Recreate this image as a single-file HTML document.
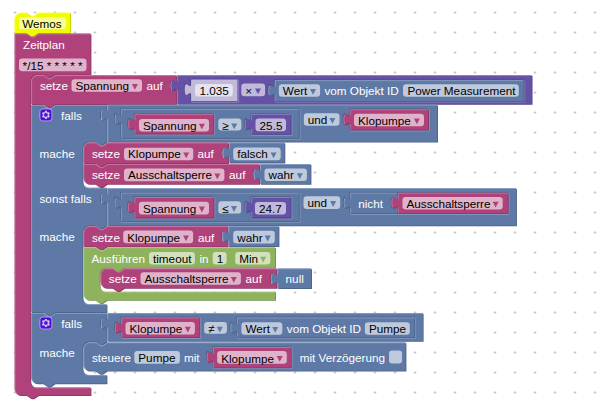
<!DOCTYPE html>
<html><head><meta charset="utf-8"><style>
html,body{margin:0;padding:0;background:#fff;}
body{width:605px;height:405px;overflow:hidden;}
svg{display:block;}
text{font-family:"Liberation Sans",sans-serif;font-size:11.73px;white-space:pre;}
</style></head><body>
<svg width="605" height="405" viewBox="0 0 605 405">
<defs><pattern id="grid" patternUnits="userSpaceOnUse" width="20" height="20" x="13" y="11">
<ellipse cx="2" cy="1.5" rx="1.45" ry="1.1" fill="#c6c6c6"/></pattern></defs>
<rect width="605" height="405" fill="#fff"/>
<rect width="605" height="405" fill="url(#grid)"/>
<path d="M 15.4,20 a 6.4,6.4 0 0,1 6.4,-6.4 H 27.4 l 4.8,3.2 2.4,0 4.8,-3.2 H 71 V 33.8 H 39 l -4.8,3.2 -2.4,0 -4.8,-3.2 H 15.4 Z" fill="rgb(192,202,0)"/>
<path d="M 14.6,19.2 a 6.4,6.4 0 0,1 6.4,-6.4 H 26.6 l 4.8,3.2 2.4,0 4.8,-3.2 H 70.2 V 33 H 38.2 l -4.8,3.2 -2.4,0 -4.8,-3.2 H 14.6 Z" fill="rgb(240,253,0)"/>
<path d="M 15,19.2 a 6.0,6.0 0 0,1 6.0,-6.0 H 27 l 4.8,3.2 2.4,0 4.8,-3.2 H 69.8 M 15,32.6 V 19.2 " fill="none" stroke="rgb(244,254,76)" stroke-width="0.8"/>
<rect x="18.9" y="17.2" width="47.1" height="11.9" rx="3.2" fill="rgb(249,254,153)"/>
<text x="22.2" y="28" fill="#000">Wemos</text>
<path d="M 15.4,34.4 H 27.4 l 4.8,3.2 2.4,0 4.8,-3.2 H 91.4 V 75.2 H 55.2 l -4.8,3.2 -2.4,0 -4.8,-3.2 H 37.6 a 6.4,6.4 0 0,0 -6.4,6.4 V 381.9 a 6.4,6.4 0 0,0 6.4,6.4 H 91.4 V 396.1 H 39 l -4.8,3.2 -2.4,0 -4.8,-3.2 H 21.8 a 6.4,6.4 0 0,1 -6.4,-6.4 Z" fill="rgb(140,53,98)"/>
<path d="M 14.6,33.6 H 26.6 l 4.8,3.2 2.4,0 4.8,-3.2 H 90.6 V 74.4 H 54.4 l -4.8,3.2 -2.4,0 -4.8,-3.2 H 36.8 a 6.4,6.4 0 0,0 -6.4,6.4 V 381.1 a 6.4,6.4 0 0,0 6.4,6.4 H 90.6 V 395.3 H 38.2 l -4.8,3.2 -2.4,0 -4.8,-3.2 H 21 a 6.4,6.4 0 0,1 -6.4,-6.4 Z" fill="rgb(175,66,123)"/>
<path d="M 15,34 H 27 l 4.8,3.2 2.4,0 4.8,-3.2 H 90.2 M 32.32,385.98 Q 33.92,387.9 36.8,387.9 H 90.2 M 16.5,393.4 Q 15,391.8 15,388.9 V 34 " fill="none" stroke="rgb(199,123,163)" stroke-width="0.8"/>
<text x="23" y="49" fill="#fff">Zeitplan</text>
<rect x="19" y="58.6" width="67.5" height="12.6" rx="3.2" fill="#fff" fill-opacity="0.6"/>
<text x="22.6" y="70" fill="#000">*/15 * * * * *</text>
<path d="M 32,82.4 a 6.4,6.4 0 0,1 6.4,-6.4 H 44 l 4.8,3.2 2.4,0 4.8,-3.2 H 177.2 V 80 c 0,8 -6.4,-6.4 -6.4,6 s 6.4,-2 6.4,6 V 105 H 55.6 l -4.8,3.2 -2.4,0 -4.8,-3.2 H 32 Z" fill="rgb(140,53,98)"/>
<path d="M 31.2,81.6 a 6.4,6.4 0 0,1 6.4,-6.4 H 43.2 l 4.8,3.2 2.4,0 4.8,-3.2 H 176.4 V 79.2 c 0,8 -6.4,-6.4 -6.4,6 s 6.4,-2 6.4,6 V 104.2 H 54.8 l -4.8,3.2 -2.4,0 -4.8,-3.2 H 31.2 Z" fill="rgb(175,66,123)"/>
<path d="M 31.6,81.6 a 6.0,6.0 0 0,1 6.0,-6.0 H 43.6 l 4.8,3.2 2.4,0 4.8,-3.2 H 176 M 31.6,103.8 V 81.6 " fill="none" stroke="rgb(199,123,163)" stroke-width="0.8"/>
<text x="39.9" y="90" fill="#fff">setze</text>
<rect x="71.5" y="79.2" width="70.5" height="12.6" rx="3.2" fill="#fff" fill-opacity="0.6"/>
<text x="75.5" y="90" fill="#000">Spannung</text>
<path d="M 131.9,84 H 137.9 L 134.9,89.8 Z" fill="rgb(175,66,123)"/>
<text x="146.4" y="90" fill="#fff">auf</text>
<path d="M 178,76 H 532.5 V 104.7 H 178 V 92 c 0,-8 -6.4,6.4 -6.4,-6 s 6.4,2 6.4,-6 Z" fill="rgb(81,66,133)"/>
<path d="M 177.2,75.2 H 531.7 V 103.9 H 177.2 V 91.2 c 0,-8 -6.4,6.4 -6.4,-6 s 6.4,2 6.4,-6 Z" fill="rgb(101,82,166)"/>
<path d="M 177.6,75.6 H 531.3 M 177.6,103.5 V 91.2 v -1.2 m -5.89,-0.4 q -1.22,-4.4 0,-8.8 m 5.89,0.8 V 75.6 M 238.6,80 V 102.3 H 191.5 M 524.8,80.6 V 102.1 H 275.1 " fill="none" stroke="rgb(147,134,193)" stroke-width="0.8"/>
<rect x="241.3" y="83.6" width="23.8" height="12.6" rx="3.2" fill="#fff" fill-opacity="0.6"/>
<text x="245.2" y="95" fill="#000">×</text>
<path d="M 255,88.4 H 261 L 258,94.2 Z" fill="rgb(101,82,166)"/>
<path d="M 190.3,78.8 H 236.6 V 100.3 H 190.3 V 94.8 c 0,-8 -6.4,6.4 -6.4,-6 s 6.4,2 6.4,-6 Z" fill="rgb(81,66,133)"/>
<path d="M 191.1,79.6 H 237.4 V 101.1 H 191.1 V 95.6 c 0,-8 -6.4,6.4 -6.4,-6 s 6.4,2 6.4,-6 Z" fill="rgb(193,186,219)"/>
<rect x="195.1" y="83.9" width="37.7" height="12.6" rx="3.2" fill="#fff" fill-opacity="0.6"/>
<text x="199.4" y="95" fill="#000">1.035</text>
<path d="M 273.9,79.4 H 522.8 V 100.1 H 273.9 V 95.4 c 0,-8 -6.4,6.4 -6.4,-6 s 6.4,2 6.4,-6 Z" fill="rgb(81,66,133)"/>
<path d="M 275.5,81 H 524.4 V 101.7 H 275.5 V 97 c 0,-8 -6.4,6.4 -6.4,-6 s 6.4,2 6.4,-6 Z" fill="rgb(75,97,133)"/>
<path d="M 274.7,80.2 H 523.6 V 100.9 H 274.7 V 96.2 c 0,-8 -6.4,6.4 -6.4,-6 s 6.4,2 6.4,-6 Z" fill="rgb(94,121,166)"/>
<path d="M 275.1,80.6 H 523.2 M 275.1,100.5 V 96.2 v -1.2 m -5.89,-0.4 q -1.22,-4.4 0,-8.8 m 5.89,0.8 V 80.6 " fill="none" stroke="rgb(142,161,193)" stroke-width="0.8"/>
<rect x="278.8" y="84.2" width="41.3" height="12.6" rx="3.2" fill="#fff" fill-opacity="0.6"/>
<text x="282.8" y="95" fill="#000">Wert</text>
<path d="M 310,89 H 316 L 313,94.8 Z" fill="rgb(94,121,166)"/>
<text x="324.4" y="95" fill="#fff">vom Objekt ID</text>
<rect x="403" y="84.2" width="115.8" height="12.6" rx="3.2" fill="#fff" fill-opacity="0.6"/>
<text x="407.4" y="95" fill="#000">Power Measurement</text>
<path d="M 32,105.8 H 44 l 4.8,3.2 2.4,0 4.8,-3.2 H 107.4 V 109.8 c 0,8 -6.4,-6.4 -6.4,6 s 6.4,-2 6.4,6 V 142.6 H 107.4 l -4.8,3.2 -2.4,0 -4.8,-3.2 H 89.8 a 6.4,6.4 0 0,0 -6.4,6.4 V 182.2 a 6.4,6.4 0 0,0 6.4,6.4 H 107.4 V 193 c 0,8 -6.4,-6.4 -6.4,6 s 6.4,-2 6.4,6 V 226.2 H 107.4 l -4.8,3.2 -2.4,0 -4.8,-3.2 H 89.8 a 6.4,6.4 0 0,0 -6.4,6.4 V 298.6 a 6.4,6.4 0 0,0 6.4,6.4 H 107.4 V 313.1 H 55.6 l -4.8,3.2 -2.4,0 -4.8,-3.2 H 32 Z" fill="rgb(75,97,133)"/>
<path d="M 31.2,105 H 43.2 l 4.8,3.2 2.4,0 4.8,-3.2 H 106.6 V 109 c 0,8 -6.4,-6.4 -6.4,6 s 6.4,-2 6.4,6 V 141.8 H 106.6 l -4.8,3.2 -2.4,0 -4.8,-3.2 H 89 a 6.4,6.4 0 0,0 -6.4,6.4 V 181.4 a 6.4,6.4 0 0,0 6.4,6.4 H 106.6 V 192.2 c 0,8 -6.4,-6.4 -6.4,6 s 6.4,-2 6.4,6 V 225.4 H 106.6 l -4.8,3.2 -2.4,0 -4.8,-3.2 H 89 a 6.4,6.4 0 0,0 -6.4,6.4 V 297.8 a 6.4,6.4 0 0,0 6.4,6.4 H 106.6 V 312.3 H 54.8 l -4.8,3.2 -2.4,0 -4.8,-3.2 H 31.2 Z" fill="rgb(94,121,166)"/>
<path d="M 31.6,105.4 H 43.6 l 4.8,3.2 2.4,0 4.8,-3.2 H 106.2 M 84.52,186.28 Q 86.12,188.2 89,188.2 H 106.2 M 84.52,302.68 Q 86.12,304.6 89,304.6 H 106.2 M 31.6,311.9 V 105.4 " fill="none" stroke="rgb(142,161,193)" stroke-width="0.8"/>
<g transform="translate(39.5,108.5) scale(0.8)"><rect x="0.5" y="0.5" width="15" height="15" rx="3.6" fill="rgb(88,10,222)" stroke="rgb(190,200,230)" stroke-width="0.9"/><path d="m4.203,7.296 0,1.368 -0.92,0.677 -0.11,0.41 0.9,1.559 0.41,0.11 1.043,-0.457 1.187,0.683 0.127,1.134 0.3,0.3 1.8,0 0.3,-0.299 0.127,-1.138 1.185,-0.682 1.046,0.458 0.409,-0.11 0.9,-1.559 -0.11,-0.41 -0.92,-0.677 0,-1.366 0.92,-0.677 0.11,-0.41 -0.9,-1.559 -0.409,-0.109 -1.046,0.458 -1.185,-0.682 -0.127,-1.138 -0.3,-0.299 -1.8,0 -0.3,0.3 -0.126,1.135 -1.187,0.682 -1.043,-0.457 -0.41,0.11 -0.899,1.559 0.108,0.409z" fill="rgb(200,206,228)"/><circle cx="8" cy="8" r="2.7" fill="rgb(88,10,222)" stroke="rgb(190,200,230)" stroke-width="0.6"/></g>
<text x="61" y="120" fill="#fff">falls</text>
<text x="39.6" y="158" fill="#fff">mache</text>
<text x="39.5" y="203" fill="#fff">sonst falls</text>
<text x="39.6" y="241" fill="#fff">mache</text>
<path d="M 108.2,105.6 H 438 V 142.6 H 108.2 V 121.6 c 0,-8 -6.4,6.4 -6.4,-6 s 6.4,2 6.4,-6 Z" fill="rgb(75,97,133)"/>
<path d="M 107.4,104.8 H 437.2 V 141.8 H 107.4 V 120.8 c 0,-8 -6.4,6.4 -6.4,-6 s 6.4,2 6.4,-6 Z" fill="rgb(94,121,166)"/>
<path d="M 107.8,105.2 H 436.8 M 107.8,141.4 V 120.8 v -1.2 m -5.89,-0.4 q -1.22,-4.4 0,-8.8 m 5.89,0.8 V 105.2 M 300,109.4 V 139.2 H 121.6 M 429.3,109.8 V 131 H 350.3 " fill="none" stroke="rgb(142,161,193)" stroke-width="0.8"/>
<rect x="303.8" y="113.2" width="35.7" height="12.6" rx="3.2" fill="#fff" fill-opacity="0.6"/>
<text x="307.8" y="124" fill="#000">und</text>
<path d="M 329.4,118 H 335.4 L 332.4,123.8 Z" fill="rgb(94,121,166)"/>
<path d="M 120.4,108.2 H 298 V 137.2 H 120.4 V 124.2 c 0,-8 -6.4,6.4 -6.4,-6 s 6.4,2 6.4,-6 Z" fill="rgb(75,97,133)"/>
<path d="M 122,109.8 H 299.6 V 138.8 H 122 V 125.8 c 0,-8 -6.4,6.4 -6.4,-6 s 6.4,2 6.4,-6 Z" fill="rgb(75,97,133)"/>
<path d="M 121.2,109 H 298.8 V 138 H 121.2 V 125 c 0,-8 -6.4,6.4 -6.4,-6 s 6.4,2 6.4,-6 Z" fill="rgb(94,121,166)"/>
<path d="M 121.6,109.4 H 298.4 M 121.6,137.6 V 125 v -1.2 m -5.89,-0.4 q -1.22,-4.4 0,-8.8 m 5.89,0.8 V 109.4 M 214.6,114.4 V 134.8 H 135 M 291.9,114.4 V 135.2 H 251.6 " fill="none" stroke="rgb(142,161,193)" stroke-width="0.8"/>
<rect x="218.3" y="118.6" width="23" height="11.8" rx="3.2" fill="#fff" fill-opacity="0.6"/>
<text x="222.3" y="130" fill="#000">≥</text>
<path d="M 231.2,123.4 H 237.2 L 234.2,129.2 Z" fill="rgb(94,121,166)"/>
<path d="M 133.8,113.2 H 212.6 V 132.8 H 133.8 V 129.2 c 0,-8 -6.4,6.4 -6.4,-6 s 6.4,2 6.4,-6 Z" fill="rgb(75,97,133)"/>
<path d="M 135.4,114.8 H 214.2 V 134.4 H 135.4 V 130.8 c 0,-8 -6.4,6.4 -6.4,-6 s 6.4,2 6.4,-6 Z" fill="rgb(140,53,98)"/>
<path d="M 134.6,114 H 213.4 V 133.6 H 134.6 V 130 c 0,-8 -6.4,6.4 -6.4,-6 s 6.4,2 6.4,-6 Z" fill="rgb(175,66,123)"/>
<path d="M 135,114.4 H 213 M 135,133.2 V 130 v -1.2 m -5.89,-0.4 q -1.22,-4.4 0,-8.8 m 5.89,0.8 V 114.4 " fill="none" stroke="rgb(199,123,163)" stroke-width="0.8"/>
<rect x="139" y="118.9" width="70" height="12.6" rx="3.2" fill="#fff" fill-opacity="0.6"/>
<text x="143" y="130" fill="#000">Spannung</text>
<path d="M 198.9,123.7 H 204.9 L 201.9,129.5 Z" fill="rgb(175,66,123)"/>
<path d="M 250.4,113.2 H 289.9 V 133.2 H 250.4 V 129.2 c 0,-8 -6.4,6.4 -6.4,-6 s 6.4,2 6.4,-6 Z" fill="rgb(75,97,133)"/>
<path d="M 252,114.8 H 291.5 V 134.8 H 252 V 130.8 c 0,-8 -6.4,6.4 -6.4,-6 s 6.4,2 6.4,-6 Z" fill="rgb(81,66,133)"/>
<path d="M 251.2,114 H 290.7 V 134 H 251.2 V 130 c 0,-8 -6.4,6.4 -6.4,-6 s 6.4,2 6.4,-6 Z" fill="rgb(101,82,166)"/>
<path d="M 251.6,114.4 H 290.3 M 251.6,133.6 V 130 v -1.2 m -5.89,-0.4 q -1.22,-4.4 0,-8.8 m 5.89,0.8 V 114.4 " fill="none" stroke="rgb(147,134,193)" stroke-width="0.8"/>
<rect x="255.5" y="118.6" width="30.5" height="12.6" rx="3.2" fill="#fff" fill-opacity="0.6"/>
<text x="259.6" y="130" fill="#000">25.5</text>
<path d="M 349.1,108.6 H 427.3 V 129 H 349.1 V 124.6 c 0,-8 -6.4,6.4 -6.4,-6 s 6.4,2 6.4,-6 Z" fill="rgb(75,97,133)"/>
<path d="M 350.7,110.2 H 428.9 V 130.6 H 350.7 V 126.2 c 0,-8 -6.4,6.4 -6.4,-6 s 6.4,2 6.4,-6 Z" fill="rgb(140,53,98)"/>
<path d="M 349.9,109.4 H 428.1 V 129.8 H 349.9 V 125.4 c 0,-8 -6.4,6.4 -6.4,-6 s 6.4,2 6.4,-6 Z" fill="rgb(175,66,123)"/>
<path d="M 350.3,109.8 H 427.7 M 350.3,129.4 V 125.4 v -1.2 m -5.89,-0.4 q -1.22,-4.4 0,-8.8 m 5.89,0.8 V 109.8 " fill="none" stroke="rgb(199,123,163)" stroke-width="0.8"/>
<rect x="354" y="113.7" width="70" height="12.6" rx="3.2" fill="#fff" fill-opacity="0.6"/>
<text x="358" y="125" fill="#000">Klopumpe</text>
<path d="M 413.9,118.5 H 419.9 L 416.9,124.3 Z" fill="rgb(175,66,123)"/>
<path d="M 84.2,149.8 a 6.4,6.4 0 0,1 6.4,-6.4 H 96.2 l 4.8,3.2 2.4,0 4.8,-3.2 H 229.1 V 147.4 c 0,8 -6.4,-6.4 -6.4,6 s 6.4,-2 6.4,6 V 164.1 H 107.8 l -4.8,3.2 -2.4,0 -4.8,-3.2 H 84.2 Z" fill="rgb(140,53,98)"/>
<path d="M 83.4,149 a 6.4,6.4 0 0,1 6.4,-6.4 H 95.4 l 4.8,3.2 2.4,0 4.8,-3.2 H 228.3 V 146.6 c 0,8 -6.4,-6.4 -6.4,6 s 6.4,-2 6.4,6 V 163.3 H 107 l -4.8,3.2 -2.4,0 -4.8,-3.2 H 83.4 Z" fill="rgb(175,66,123)"/>
<path d="M 83.8,149 a 6.0,6.0 0 0,1 6.0,-6.0 H 95.8 l 4.8,3.2 2.4,0 4.8,-3.2 H 227.9 M 83.8,162.9 V 149 " fill="none" stroke="rgb(199,123,163)" stroke-width="0.8"/>
<text x="91.9" y="158" fill="#fff">setze</text>
<rect x="124" y="147.7" width="69.3" height="12.6" rx="3.2" fill="#fff" fill-opacity="0.6"/>
<text x="128" y="158" fill="#000">Klopumpe</text>
<path d="M 183.2,152.5 H 189.2 L 186.2,158.3 Z" fill="rgb(175,66,123)"/>
<text x="197.4" y="158" fill="#fff">auf</text>
<path d="M 229.9,143.4 H 285.3 V 163.4 H 229.9 V 159.4 c 0,-8 -6.4,6.4 -6.4,-6 s 6.4,2 6.4,-6 Z" fill="rgb(75,97,133)"/>
<path d="M 229.1,142.6 H 284.5 V 162.6 H 229.1 V 158.6 c 0,-8 -6.4,6.4 -6.4,-6 s 6.4,2 6.4,-6 Z" fill="rgb(94,121,166)"/>
<path d="M 229.5,143 H 284.1 M 229.5,162.2 V 158.6 v -1.2 m -5.89,-0.4 q -1.22,-4.4 0,-8.8 m 5.89,0.8 V 143 " fill="none" stroke="rgb(142,161,193)" stroke-width="0.8"/>
<rect x="233.2" y="147.6" width="47.5" height="12.6" rx="3.2" fill="#fff" fill-opacity="0.6"/>
<text x="237.2" y="158" fill="#000">falsch</text>
<path d="M 270.6,152.4 H 276.6 L 273.6,158.2 Z" fill="rgb(94,121,166)"/>
<path d="M 84.2,164.9 H 96.2 l 4.8,3.2 2.4,0 4.8,-3.2 H 260.2 V 168.9 c 0,8 -6.4,-6.4 -6.4,6 s 6.4,-2 6.4,6 V 184.8 H 107.8 l -4.8,3.2 -2.4,0 -4.8,-3.2 H 90.6 a 6.4,6.4 0 0,1 -6.4,-6.4 Z" fill="rgb(140,53,98)"/>
<path d="M 83.4,164.1 H 95.4 l 4.8,3.2 2.4,0 4.8,-3.2 H 259.4 V 168.1 c 0,8 -6.4,-6.4 -6.4,6 s 6.4,-2 6.4,6 V 184 H 107 l -4.8,3.2 -2.4,0 -4.8,-3.2 H 89.8 a 6.4,6.4 0 0,1 -6.4,-6.4 Z" fill="rgb(175,66,123)"/>
<path d="M 83.8,164.5 H 95.8 l 4.8,3.2 2.4,0 4.8,-3.2 H 259 M 85.3,182.1 Q 83.8,180.5 83.8,177.6 V 164.5 " fill="none" stroke="rgb(199,123,163)" stroke-width="0.8"/>
<text x="91.9" y="179" fill="#fff">setze</text>
<rect x="124" y="168.6" width="100.4" height="12.6" rx="3.2" fill="#fff" fill-opacity="0.6"/>
<text x="128" y="179" fill="#000">Ausschaltsperre</text>
<path d="M 214.3,173.4 H 220.3 L 217.3,179.2 Z" fill="rgb(175,66,123)"/>
<text x="229.1" y="179" fill="#fff">auf</text>
<path d="M 261,164.9 H 311.4 V 184.8 H 261 V 180.9 c 0,-8 -6.4,6.4 -6.4,-6 s 6.4,2 6.4,-6 Z" fill="rgb(75,97,133)"/>
<path d="M 260.2,164.1 H 310.6 V 184 H 260.2 V 180.1 c 0,-8 -6.4,6.4 -6.4,-6 s 6.4,2 6.4,-6 Z" fill="rgb(94,121,166)"/>
<path d="M 260.6,164.5 H 310.2 M 260.6,183.6 V 180.1 v -1.2 m -5.89,-0.4 q -1.22,-4.4 0,-8.8 m 5.89,0.8 V 164.5 " fill="none" stroke="rgb(142,161,193)" stroke-width="0.8"/>
<rect x="264.5" y="168.4" width="42.4" height="12.6" rx="3.2" fill="#fff" fill-opacity="0.6"/>
<text x="268.5" y="179" fill="#000">wahr</text>
<path d="M 296.8,173.2 H 302.8 L 299.8,179 Z" fill="rgb(94,121,166)"/>
<path d="M 108.2,189 H 516.9 V 226.2 H 108.2 V 205 c 0,-8 -6.4,6.4 -6.4,-6 s 6.4,2 6.4,-6 Z" fill="rgb(75,97,133)"/>
<path d="M 107.4,188.2 H 516.1 V 225.4 H 107.4 V 204.2 c 0,-8 -6.4,6.4 -6.4,-6 s 6.4,2 6.4,-6 Z" fill="rgb(94,121,166)"/>
<path d="M 107.8,188.6 H 515.7 M 107.8,225 V 204.2 v -1.2 m -5.89,-0.4 q -1.22,-4.4 0,-8.8 m 5.89,0.8 V 188.6 M 300,193.1 V 222.2 H 121.4 M 509,193.2 V 214.4 H 350.6 " fill="none" stroke="rgb(142,161,193)" stroke-width="0.8"/>
<rect x="303.5" y="196.3" width="36.7" height="12.6" rx="3.2" fill="#fff" fill-opacity="0.6"/>
<text x="307.5" y="207" fill="#000">und</text>
<path d="M 330.1,201.1 H 336.1 L 333.1,206.9 Z" fill="rgb(94,121,166)"/>
<path d="M 120.2,191.9 H 298 V 220.2 H 120.2 V 207.9 c 0,-8 -6.4,6.4 -6.4,-6 s 6.4,2 6.4,-6 Z" fill="rgb(75,97,133)"/>
<path d="M 121.8,193.5 H 299.6 V 221.8 H 121.8 V 209.5 c 0,-8 -6.4,6.4 -6.4,-6 s 6.4,2 6.4,-6 Z" fill="rgb(75,97,133)"/>
<path d="M 121,192.7 H 298.8 V 221 H 121 V 208.7 c 0,-8 -6.4,6.4 -6.4,-6 s 6.4,2 6.4,-6 Z" fill="rgb(94,121,166)"/>
<path d="M 121.4,193.1 H 298.4 M 121.4,220.6 V 208.7 v -1.2 m -5.89,-0.4 q -1.22,-4.4 0,-8.8 m 5.89,0.8 V 193.1 M 214.8,197.5 V 218.8 H 134.8 M 291.8,197.5 V 218.8 H 251.8 " fill="none" stroke="rgb(142,161,193)" stroke-width="0.8"/>
<rect x="218.3" y="201.3" width="22.8" height="12.3" rx="3.2" fill="#fff" fill-opacity="0.6"/>
<text x="222.3" y="213" fill="#000">≤</text>
<path d="M 231,206.1 H 237 L 234,211.9 Z" fill="rgb(94,121,166)"/>
<path d="M 133.6,196.3 H 212.8 V 216.8 H 133.6 V 212.3 c 0,-8 -6.4,6.4 -6.4,-6 s 6.4,2 6.4,-6 Z" fill="rgb(75,97,133)"/>
<path d="M 135.2,197.9 H 214.4 V 218.4 H 135.2 V 213.9 c 0,-8 -6.4,6.4 -6.4,-6 s 6.4,2 6.4,-6 Z" fill="rgb(140,53,98)"/>
<path d="M 134.4,197.1 H 213.6 V 217.6 H 134.4 V 213.1 c 0,-8 -6.4,6.4 -6.4,-6 s 6.4,2 6.4,-6 Z" fill="rgb(175,66,123)"/>
<path d="M 134.8,197.5 H 213.2 M 134.8,217.2 V 213.1 v -1.2 m -5.89,-0.4 q -1.22,-4.4 0,-8.8 m 5.89,0.8 V 197.5 " fill="none" stroke="rgb(199,123,163)" stroke-width="0.8"/>
<rect x="138.9" y="201.8" width="70.1" height="12.6" rx="3.2" fill="#fff" fill-opacity="0.6"/>
<text x="142.9" y="213" fill="#000">Spannung</text>
<path d="M 198.9,206.6 H 204.9 L 201.9,212.4 Z" fill="rgb(175,66,123)"/>
<path d="M 250.6,196.3 H 289.8 V 216.8 H 250.6 V 212.3 c 0,-8 -6.4,6.4 -6.4,-6 s 6.4,2 6.4,-6 Z" fill="rgb(75,97,133)"/>
<path d="M 252.2,197.9 H 291.4 V 218.4 H 252.2 V 213.9 c 0,-8 -6.4,6.4 -6.4,-6 s 6.4,2 6.4,-6 Z" fill="rgb(81,66,133)"/>
<path d="M 251.4,197.1 H 290.6 V 217.6 H 251.4 V 213.1 c 0,-8 -6.4,6.4 -6.4,-6 s 6.4,2 6.4,-6 Z" fill="rgb(101,82,166)"/>
<path d="M 251.8,197.5 H 290.2 M 251.8,217.2 V 213.1 v -1.2 m -5.89,-0.4 q -1.22,-4.4 0,-8.8 m 5.89,0.8 V 197.5 " fill="none" stroke="rgb(147,134,193)" stroke-width="0.8"/>
<rect x="254.9" y="201.9" width="31.1" height="12.6" rx="3.2" fill="#fff" fill-opacity="0.6"/>
<text x="258.9" y="213" fill="#000">24.7</text>
<path d="M 349.4,192 H 396.3 V 196 c 0,8 -6.4,-6.4 -6.4,6 s 6.4,-2 6.4,6 V 212.4 H 349.4 V 208 c 0,-8 -6.4,6.4 -6.4,-6 s 6.4,2 6.4,-6 Z" fill="rgb(75,97,133)"/>
<path d="M 397.1,192 H 507 V 212.4 H 397.1 V 208 c 0,-8 -6.4,6.4 -6.4,-6 s 6.4,2 6.4,-6 Z" fill="rgb(75,97,133)"/>
<path d="M 351,193.6 H 397.9 V 197.6 c 0,8 -6.4,-6.4 -6.4,6 s 6.4,-2 6.4,6 V 214 H 351 V 209.6 c 0,-8 -6.4,6.4 -6.4,-6 s 6.4,2 6.4,-6 Z" fill="rgb(75,97,133)"/>
<path d="M 350.2,192.8 H 397.1 V 196.8 c 0,8 -6.4,-6.4 -6.4,6 s 6.4,-2 6.4,6 V 213.2 H 350.2 V 208.8 c 0,-8 -6.4,6.4 -6.4,-6 s 6.4,2 6.4,-6 Z" fill="rgb(94,121,166)"/>
<path d="M 350.6,193.2 H 396.7 M 350.6,212.8 V 208.8 v -1.2 m -5.89,-0.4 q -1.22,-4.4 0,-8.8 m 5.89,0.8 V 193.2 " fill="none" stroke="rgb(142,161,193)" stroke-width="0.8"/>
<text x="358.2" y="208" fill="#fff">nicht</text>
<path d="M 398.7,193.6 H 508.6 V 214 H 398.7 V 209.6 c 0,-8 -6.4,6.4 -6.4,-6 s 6.4,2 6.4,-6 Z" fill="rgb(140,53,98)"/>
<path d="M 397.9,192.8 H 507.8 V 213.2 H 397.9 V 208.8 c 0,-8 -6.4,6.4 -6.4,-6 s 6.4,2 6.4,-6 Z" fill="rgb(175,66,123)"/>
<path d="M 398.3,193.2 H 507.4 M 398.3,212.8 V 208.8 v -1.2 m -5.89,-0.4 q -1.22,-4.4 0,-8.8 m 5.89,0.8 V 193.2 " fill="none" stroke="rgb(199,123,163)" stroke-width="0.8"/>
<rect x="402.5" y="196.9" width="100.2" height="12.6" rx="3.2" fill="#fff" fill-opacity="0.6"/>
<text x="406.5" y="208" fill="#000">Ausschaltsperre</text>
<path d="M 492.6,201.7 H 498.6 L 495.6,207.5 Z" fill="rgb(175,66,123)"/>
<path d="M 84.2,233.4 a 6.4,6.4 0 0,1 6.4,-6.4 H 96.2 l 4.8,3.2 2.4,0 4.8,-3.2 H 228.6 V 231 c 0,8 -6.4,-6.4 -6.4,6 s 6.4,-2 6.4,6 V 247.3 H 107.8 l -4.8,3.2 -2.4,0 -4.8,-3.2 H 84.2 Z" fill="rgb(140,53,98)"/>
<path d="M 83.4,232.6 a 6.4,6.4 0 0,1 6.4,-6.4 H 95.4 l 4.8,3.2 2.4,0 4.8,-3.2 H 227.8 V 230.2 c 0,8 -6.4,-6.4 -6.4,6 s 6.4,-2 6.4,6 V 246.5 H 107 l -4.8,3.2 -2.4,0 -4.8,-3.2 H 83.4 Z" fill="rgb(175,66,123)"/>
<path d="M 83.8,232.6 a 6.0,6.0 0 0,1 6.0,-6.0 H 95.8 l 4.8,3.2 2.4,0 4.8,-3.2 H 227.4 M 83.8,246.1 V 232.6 " fill="none" stroke="rgb(199,123,163)" stroke-width="0.8"/>
<text x="91.9" y="242" fill="#fff">setze</text>
<rect x="123.2" y="230.6" width="69.9" height="12.6" rx="3.2" fill="#fff" fill-opacity="0.6"/>
<text x="127.2" y="242" fill="#000">Klopumpe</text>
<path d="M 183,235.4 H 189 L 186,241.2 Z" fill="rgb(175,66,123)"/>
<text x="197.9" y="242" fill="#fff">auf</text>
<path d="M 229.4,227 H 279.4 V 247 H 229.4 V 243 c 0,-8 -6.4,6.4 -6.4,-6 s 6.4,2 6.4,-6 Z" fill="rgb(75,97,133)"/>
<path d="M 228.6,226.2 H 278.6 V 246.2 H 228.6 V 242.2 c 0,-8 -6.4,6.4 -6.4,-6 s 6.4,2 6.4,-6 Z" fill="rgb(94,121,166)"/>
<path d="M 229,226.6 H 278.2 M 229,245.8 V 242.2 v -1.2 m -5.89,-0.4 q -1.22,-4.4 0,-8.8 m 5.89,0.8 V 226.6 " fill="none" stroke="rgb(142,161,193)" stroke-width="0.8"/>
<rect x="233.2" y="230.8" width="41.6" height="12.6" rx="3.2" fill="#fff" fill-opacity="0.6"/>
<text x="237.2" y="242" fill="#000">wahr</text>
<path d="M 264.7,235.6 H 270.7 L 267.7,241.4 Z" fill="rgb(94,121,166)"/>
<path d="M 84.2,248.1 H 96.2 l 4.8,3.2 2.4,0 4.8,-3.2 H 276 V 268.5 H 124.5 l -4.8,3.2 -2.4,0 -4.8,-3.2 H 106.9 a 6.4,6.4 0 0,0 -6.4,6.4 V 286.2 a 6.4,6.4 0 0,0 6.4,6.4 H 276 V 300.8 H 107.8 l -4.8,3.2 -2.4,0 -4.8,-3.2 H 90.6 a 6.4,6.4 0 0,1 -6.4,-6.4 Z" fill="rgb(114,142,74)"/>
<path d="M 83.4,247.3 H 95.4 l 4.8,3.2 2.4,0 4.8,-3.2 H 275.2 V 267.7 H 123.7 l -4.8,3.2 -2.4,0 -4.8,-3.2 H 106.1 a 6.4,6.4 0 0,0 -6.4,6.4 V 285.4 a 6.4,6.4 0 0,0 6.4,6.4 H 275.2 V 300 H 107 l -4.8,3.2 -2.4,0 -4.8,-3.2 H 89.8 a 6.4,6.4 0 0,1 -6.4,-6.4 Z" fill="rgb(143,178,93)"/>
<path d="M 83.8,247.7 H 95.8 l 4.8,3.2 2.4,0 4.8,-3.2 H 274.8 M 101.62,290.28 Q 103.22,292.2 106.1,292.2 H 274.8 M 85.3,298.1 Q 83.8,296.5 83.8,293.6 V 247.7 " fill="none" stroke="rgb(177,201,142)" stroke-width="0.8"/>
<text x="91.5" y="263" fill="#fff">Ausführen</text>
<rect x="149" y="251.9" width="45.9" height="12.6" rx="3.2" fill="#fff" fill-opacity="0.6"/>
<text x="153" y="263" fill="#000">timeout</text>
<text x="199.4" y="263" fill="#fff">in</text>
<rect x="212.7" y="251.9" width="13.9" height="12.6" rx="3.2" fill="#fff" fill-opacity="0.6"/>
<text x="216.7" y="263" fill="#000">1</text>
<rect x="235.2" y="251.9" width="35.1" height="12.6" rx="3.2" fill="#fff" fill-opacity="0.6"/>
<text x="239.2" y="263" fill="#000">Min</text>
<path d="M 260.2,256.7 H 266.2 L 263.2,262.5 Z" fill="rgb(143,178,93)"/>
<path d="M 101.3,275.7 a 6.4,6.4 0 0,1 6.4,-6.4 H 113.3 l 4.8,3.2 2.4,0 4.8,-3.2 H 277.4 V 273.3 c 0,8 -6.4,-6.4 -6.4,6 s 6.4,-2 6.4,6 V 288.8 H 124.9 l -4.8,3.2 -2.4,0 -4.8,-3.2 H 107.7 a 6.4,6.4 0 0,1 -6.4,-6.4 Z" fill="rgb(140,53,98)"/>
<path d="M 100.5,274.9 a 6.4,6.4 0 0,1 6.4,-6.4 H 112.5 l 4.8,3.2 2.4,0 4.8,-3.2 H 276.6 V 272.5 c 0,8 -6.4,-6.4 -6.4,6 s 6.4,-2 6.4,6 V 288 H 124.1 l -4.8,3.2 -2.4,0 -4.8,-3.2 H 106.9 a 6.4,6.4 0 0,1 -6.4,-6.4 Z" fill="rgb(175,66,123)"/>
<path d="M 100.9,274.9 a 6.0,6.0 0 0,1 6.0,-6.0 H 112.9 l 4.8,3.2 2.4,0 4.8,-3.2 H 276.2 M 102.4,286.1 Q 100.9,284.5 100.9,281.6 V 274.9 " fill="none" stroke="rgb(199,123,163)" stroke-width="0.8"/>
<text x="108.8" y="283" fill="#fff">setze</text>
<rect x="140.5" y="272.2" width="100.4" height="12.6" rx="3.2" fill="#fff" fill-opacity="0.6"/>
<text x="144.5" y="283" fill="#000">Ausschaltsperre</text>
<path d="M 230.8,277 H 236.8 L 233.8,282.8 Z" fill="rgb(175,66,123)"/>
<text x="245.6" y="283" fill="#fff">auf</text>
<path d="M 278.2,269.3 H 312 V 289 H 278.2 V 285.3 c 0,-8 -6.4,6.4 -6.4,-6 s 6.4,2 6.4,-6 Z" fill="rgb(75,97,133)"/>
<path d="M 277.4,268.5 H 311.2 V 288.2 H 277.4 V 284.5 c 0,-8 -6.4,6.4 -6.4,-6 s 6.4,2 6.4,-6 Z" fill="rgb(94,121,166)"/>
<path d="M 277.8,268.9 H 310.8 M 277.8,287.8 V 284.5 v -1.2 m -5.89,-0.4 q -1.22,-4.4 0,-8.8 m 5.89,0.8 V 268.9 " fill="none" stroke="rgb(142,161,193)" stroke-width="0.8"/>
<text x="285.6" y="283" fill="#fff">null</text>
<path d="M 32,313.9 H 44 l 4.8,3.2 2.4,0 4.8,-3.2 H 107.4 V 317.9 c 0,8 -6.4,-6.4 -6.4,6 s 6.4,-2 6.4,6 V 342.4 H 107.4 l -4.8,3.2 -2.4,0 -4.8,-3.2 H 89.8 a 6.4,6.4 0 0,0 -6.4,6.4 V 369.4 a 6.4,6.4 0 0,0 6.4,6.4 H 107.4 V 384.3 H 55.6 l -4.8,3.2 -2.4,0 -4.8,-3.2 H 38.4 a 6.4,6.4 0 0,1 -6.4,-6.4 Z" fill="rgb(75,97,133)"/>
<path d="M 31.2,313.1 H 43.2 l 4.8,3.2 2.4,0 4.8,-3.2 H 106.6 V 317.1 c 0,8 -6.4,-6.4 -6.4,6 s 6.4,-2 6.4,6 V 341.6 H 106.6 l -4.8,3.2 -2.4,0 -4.8,-3.2 H 89 a 6.4,6.4 0 0,0 -6.4,6.4 V 368.6 a 6.4,6.4 0 0,0 6.4,6.4 H 106.6 V 383.5 H 54.8 l -4.8,3.2 -2.4,0 -4.8,-3.2 H 37.6 a 6.4,6.4 0 0,1 -6.4,-6.4 Z" fill="rgb(94,121,166)"/>
<path d="M 31.6,313.5 H 43.6 l 4.8,3.2 2.4,0 4.8,-3.2 H 106.2 M 84.52,373.48 Q 86.12,375.4 89,375.4 H 106.2 M 33.1,381.6 Q 31.6,380 31.6,377.1 V 313.5 " fill="none" stroke="rgb(142,161,193)" stroke-width="0.8"/>
<g transform="translate(39.5,316.6) scale(0.8)"><rect x="0.5" y="0.5" width="15" height="15" rx="3.6" fill="rgb(88,10,222)" stroke="rgb(190,200,230)" stroke-width="0.9"/><path d="m4.203,7.296 0,1.368 -0.92,0.677 -0.11,0.41 0.9,1.559 0.41,0.11 1.043,-0.457 1.187,0.683 0.127,1.134 0.3,0.3 1.8,0 0.3,-0.299 0.127,-1.138 1.185,-0.682 1.046,0.458 0.409,-0.11 0.9,-1.559 -0.11,-0.41 -0.92,-0.677 0,-1.366 0.92,-0.677 0.11,-0.41 -0.9,-1.559 -0.409,-0.109 -1.046,0.458 -1.185,-0.682 -0.127,-1.138 -0.3,-0.299 -1.8,0 -0.3,0.3 -0.126,1.135 -1.187,0.682 -1.043,-0.457 -0.41,0.11 -0.899,1.559 0.108,0.409z" fill="rgb(200,206,228)"/><circle cx="8" cy="8" r="2.7" fill="rgb(88,10,222)" stroke="rgb(190,200,230)" stroke-width="0.6"/></g>
<text x="61.3" y="328" fill="#fff">falls</text>
<text x="39.6" y="357" fill="#fff">mache</text>
<path d="M 108.2,313.9 H 423.6 V 341.8 H 108.2 V 329.9 c 0,-8 -6.4,6.4 -6.4,-6 s 6.4,2 6.4,-6 Z" fill="rgb(75,97,133)"/>
<path d="M 107.4,313.1 H 422.8 V 341 H 107.4 V 329.1 c 0,-8 -6.4,6.4 -6.4,-6 s 6.4,2 6.4,-6 Z" fill="rgb(94,121,166)"/>
<path d="M 107.8,313.5 H 422.4 M 107.8,340.6 V 329.1 v -1.2 m -5.89,-0.4 q -1.22,-4.4 0,-8.8 m 5.89,0.8 V 313.5 M 200.6,318 V 338.4 H 121.7 M 415.6,318 V 338.2 H 237.3 " fill="none" stroke="rgb(142,161,193)" stroke-width="0.8"/>
<rect x="204.2" y="321.9" width="22.7" height="11.8" rx="3.2" fill="#fff" fill-opacity="0.6"/>
<text x="208.2" y="333" fill="#000">≠</text>
<path d="M 216.8,326.7 H 222.8 L 219.8,332.5 Z" fill="rgb(94,121,166)"/>
<path d="M 120.5,316.8 H 198.6 V 336.4 H 120.5 V 332.8 c 0,-8 -6.4,6.4 -6.4,-6 s 6.4,2 6.4,-6 Z" fill="rgb(75,97,133)"/>
<path d="M 122.1,318.4 H 200.2 V 338 H 122.1 V 334.4 c 0,-8 -6.4,6.4 -6.4,-6 s 6.4,2 6.4,-6 Z" fill="rgb(140,53,98)"/>
<path d="M 121.3,317.6 H 199.4 V 337.2 H 121.3 V 333.6 c 0,-8 -6.4,6.4 -6.4,-6 s 6.4,2 6.4,-6 Z" fill="rgb(175,66,123)"/>
<path d="M 121.7,318 H 199 M 121.7,336.8 V 333.6 v -1.2 m -5.89,-0.4 q -1.22,-4.4 0,-8.8 m 5.89,0.8 V 318 " fill="none" stroke="rgb(199,123,163)" stroke-width="0.8"/>
<rect x="125.5" y="322" width="69.4" height="12.6" rx="3.2" fill="#fff" fill-opacity="0.6"/>
<text x="129.5" y="333" fill="#000">Klopumpe</text>
<path d="M 184.8,326.8 H 190.8 L 187.8,332.6 Z" fill="rgb(175,66,123)"/>
<path d="M 236.1,316.8 H 413.6 V 336.2 H 236.1 V 332.8 c 0,-8 -6.4,6.4 -6.4,-6 s 6.4,2 6.4,-6 Z" fill="rgb(75,97,133)"/>
<path d="M 237.7,318.4 H 415.2 V 337.8 H 237.7 V 334.4 c 0,-8 -6.4,6.4 -6.4,-6 s 6.4,2 6.4,-6 Z" fill="rgb(75,97,133)"/>
<path d="M 236.9,317.6 H 414.4 V 337 H 236.9 V 333.6 c 0,-8 -6.4,6.4 -6.4,-6 s 6.4,2 6.4,-6 Z" fill="rgb(94,121,166)"/>
<path d="M 237.3,318 H 414 M 237.3,336.6 V 333.6 v -1.2 m -5.89,-0.4 q -1.22,-4.4 0,-8.8 m 5.89,0.8 V 318 " fill="none" stroke="rgb(142,161,193)" stroke-width="0.8"/>
<rect x="241.4" y="322.2" width="40.9" height="12.6" rx="3.2" fill="#fff" fill-opacity="0.6"/>
<text x="245.4" y="333" fill="#000">Wert</text>
<path d="M 272.2,327 H 278.2 L 275.2,332.8 Z" fill="rgb(94,121,166)"/>
<text x="286.8" y="333" fill="#fff">vom Objekt ID</text>
<rect x="364.9" y="322.2" width="44.9" height="12.6" rx="3.2" fill="#fff" fill-opacity="0.6"/>
<text x="368.9" y="333" fill="#000">Pumpe</text>
<path d="M 84.2,349.6 a 6.4,6.4 0 0,1 6.4,-6.4 H 96.2 l 4.8,3.2 2.4,0 4.8,-3.2 H 406.4 V 371.6 H 107.8 l -4.8,3.2 -2.4,0 -4.8,-3.2 H 90.6 a 6.4,6.4 0 0,1 -6.4,-6.4 Z" fill="rgb(75,97,133)"/>
<path d="M 83.4,348.8 a 6.4,6.4 0 0,1 6.4,-6.4 H 95.4 l 4.8,3.2 2.4,0 4.8,-3.2 H 405.6 V 370.8 H 107 l -4.8,3.2 -2.4,0 -4.8,-3.2 H 89.8 a 6.4,6.4 0 0,1 -6.4,-6.4 Z" fill="rgb(94,121,166)"/>
<path d="M 83.8,348.8 a 6.0,6.0 0 0,1 6.0,-6.0 H 95.8 l 4.8,3.2 2.4,0 4.8,-3.2 H 405.2 M 85.3,368.9 Q 83.8,367.3 83.8,364.4 V 348.8 M 292,347.5 V 368.6 H 213.6 " fill="none" stroke="rgb(142,161,193)" stroke-width="0.8"/>
<text x="91.9" y="362" fill="#fff">steuere</text>
<rect x="134.3" y="351.1" width="45.6" height="12.6" rx="3.2" fill="#fff" fill-opacity="0.6"/>
<text x="138.3" y="362" fill="#000">Pumpe</text>
<text x="184" y="362" fill="#fff">mit</text>
<text x="299.7" y="362" fill="#fff">mit Verzögerung</text>
<rect x="389" y="350.5" width="13.1" height="13" rx="3.2" fill="#fff" fill-opacity="0.6"/>
<path d="M 212.4,346.3 H 290 V 366.6 H 212.4 V 362.3 c 0,-8 -6.4,6.4 -6.4,-6 s 6.4,2 6.4,-6 Z" fill="rgb(75,97,133)"/>
<path d="M 214,347.9 H 291.6 V 368.2 H 214 V 363.9 c 0,-8 -6.4,6.4 -6.4,-6 s 6.4,2 6.4,-6 Z" fill="rgb(140,53,98)"/>
<path d="M 213.2,347.1 H 290.8 V 367.4 H 213.2 V 363.1 c 0,-8 -6.4,6.4 -6.4,-6 s 6.4,2 6.4,-6 Z" fill="rgb(175,66,123)"/>
<path d="M 213.6,347.5 H 290.4 M 213.6,367 V 363.1 v -1.2 m -5.89,-0.4 q -1.22,-4.4 0,-8.8 m 5.89,0.8 V 347.5 " fill="none" stroke="rgb(199,123,163)" stroke-width="0.8"/>
<rect x="217.2" y="351.1" width="69.6" height="12.6" rx="3.2" fill="#fff" fill-opacity="0.6"/>
<text x="221.2" y="363" fill="#000">Klopumpe</text>
<path d="M 276.7,355.9 H 282.7 L 279.7,361.7 Z" fill="rgb(175,66,123)"/>
</svg></body></html>
